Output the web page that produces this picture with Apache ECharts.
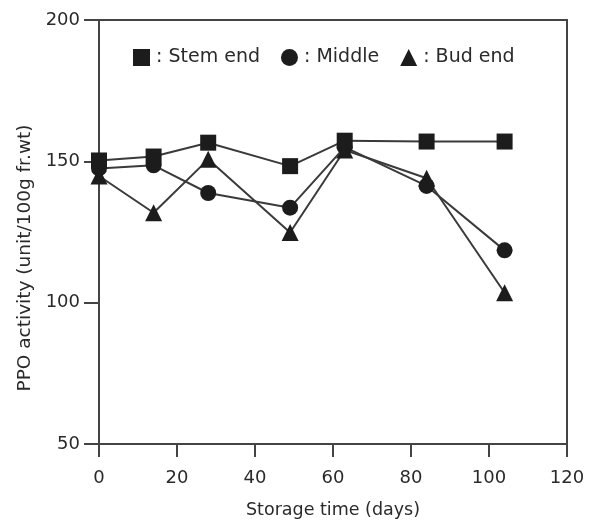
<!DOCTYPE html>
<html>
<head>
<meta charset="utf-8">
<script src="https://cdn.jsdelivr.net/npm/echarts@6/dist/echarts.min.js"></script>
<style>
  html, body { margin: 0; padding: 0; background: #fff; }
  #chart { width: 593px; height: 524px; }
</style>
</head>
<body>
<div id="chart"></div>
<script>
// storage days
var days = [0, 14, 28, 49, 63, 84, 104];
// PPO activity per part of the fruit
var stemEnd = [150.3, 151.7, 156.6, 148.3, 157.3, 157, 157];
var middle = [147.5, 148.6, 138.8, 133.6, 155, 141.3, 118.5];
var budEnd = [144.8, 131.8, 150.7, 124.8, 154, 144, 103.5];

var seriesNames = ['Stem end', 'Middle', 'Bud end'];
var symbols = ['rect', 'circle', 'triangle'];

function pairs(vals) {
    return days.map(function (d, i) { return [d, vals[i]]; });
}

var font = 'DejaVu Sans';
var chart = echarts.init(document.getElementById('chart'));

var option = {
    backgroundColor: '#fff',
    animation: false,
    textStyle: { fontFamily: font },
    grid: {
        left: 99,
        right: 26,
        top: 20,
        bottom: 75,
        show: true,
        borderColor: '#444',
        borderWidth: 2
    },
    legend: {
        left: 128,
        top: 43,
        itemWidth: 17,
        itemHeight: 17,
        itemGap: 21,
        data: seriesNames.map(function (n, i) { return { name: n, icon: symbols[i] }; }),
        formatter: function (name) { return ': ' + name; },
        textStyle: { fontFamily: font, fontSize: 19, color: '#2a2a2a', padding: [0, 0, 0, 1] }
    },
    xAxis: {
        type: 'value',
        min: 0,
        max: 120,
        interval: 20,
        name: 'Storage time (days)',
        nameLocation: 'middle',
        nameGap: 57,
        nameTextStyle: { fontFamily: font, fontSize: 17.5, color: '#2a2a2a' },
        axisLine: { show: true, lineStyle: { color: '#444', width: 2 } },
        axisTick: { show: true, length: 13, lineStyle: { color: '#444', width: 2 } },
        axisLabel: { margin: 25, fontFamily: font, fontSize: 18, color: '#2a2a2a' },
        splitLine: { show: false }
    },
    yAxis: {
        type: 'value',
        min: 50,
        max: 200,
        interval: 50,
        name: 'PPO activity (unit/100g fr.wt)',
        nameLocation: 'middle',
        nameGap: 62,
        nameTextStyle: { fontFamily: font, fontSize: 18.5, color: '#2a2a2a', padding: [0, 52, 0, 0] },
        axisLine: { show: true, lineStyle: { color: '#444', width: 2 } },
        axisTick: { show: true, length: 15, lineStyle: { color: '#444', width: 2 } },
        axisLabel: { margin: 19, fontFamily: font, fontSize: 18, color: '#2a2a2a' },
        splitLine: { show: false }
    },
    series: [
        {
            name: 'Stem end', type: 'line', data: pairs(stemEnd),
            symbol: 'rect', symbolSize: 16, z: 5,
            lineStyle: { color: '#3a3a3a', width: 2 },
            itemStyle: { color: '#1c1c1c' }
        },
        {
            name: 'Middle', type: 'line', data: pairs(middle),
            symbol: 'circle', symbolSize: 16, z: 4,
            lineStyle: { color: '#3a3a3a', width: 2 },
            itemStyle: { color: '#1c1c1c' }
        },
        {
            name: 'Bud end', type: 'line', data: pairs(budEnd),
            symbol: 'triangle', symbolSize: 17, z: 3,
            lineStyle: { color: '#3a3a3a', width: 2 },
            itemStyle: { color: '#1c1c1c' }
        }
    ]
};

chart.setOption(option);
</script>
</body>
</html>
